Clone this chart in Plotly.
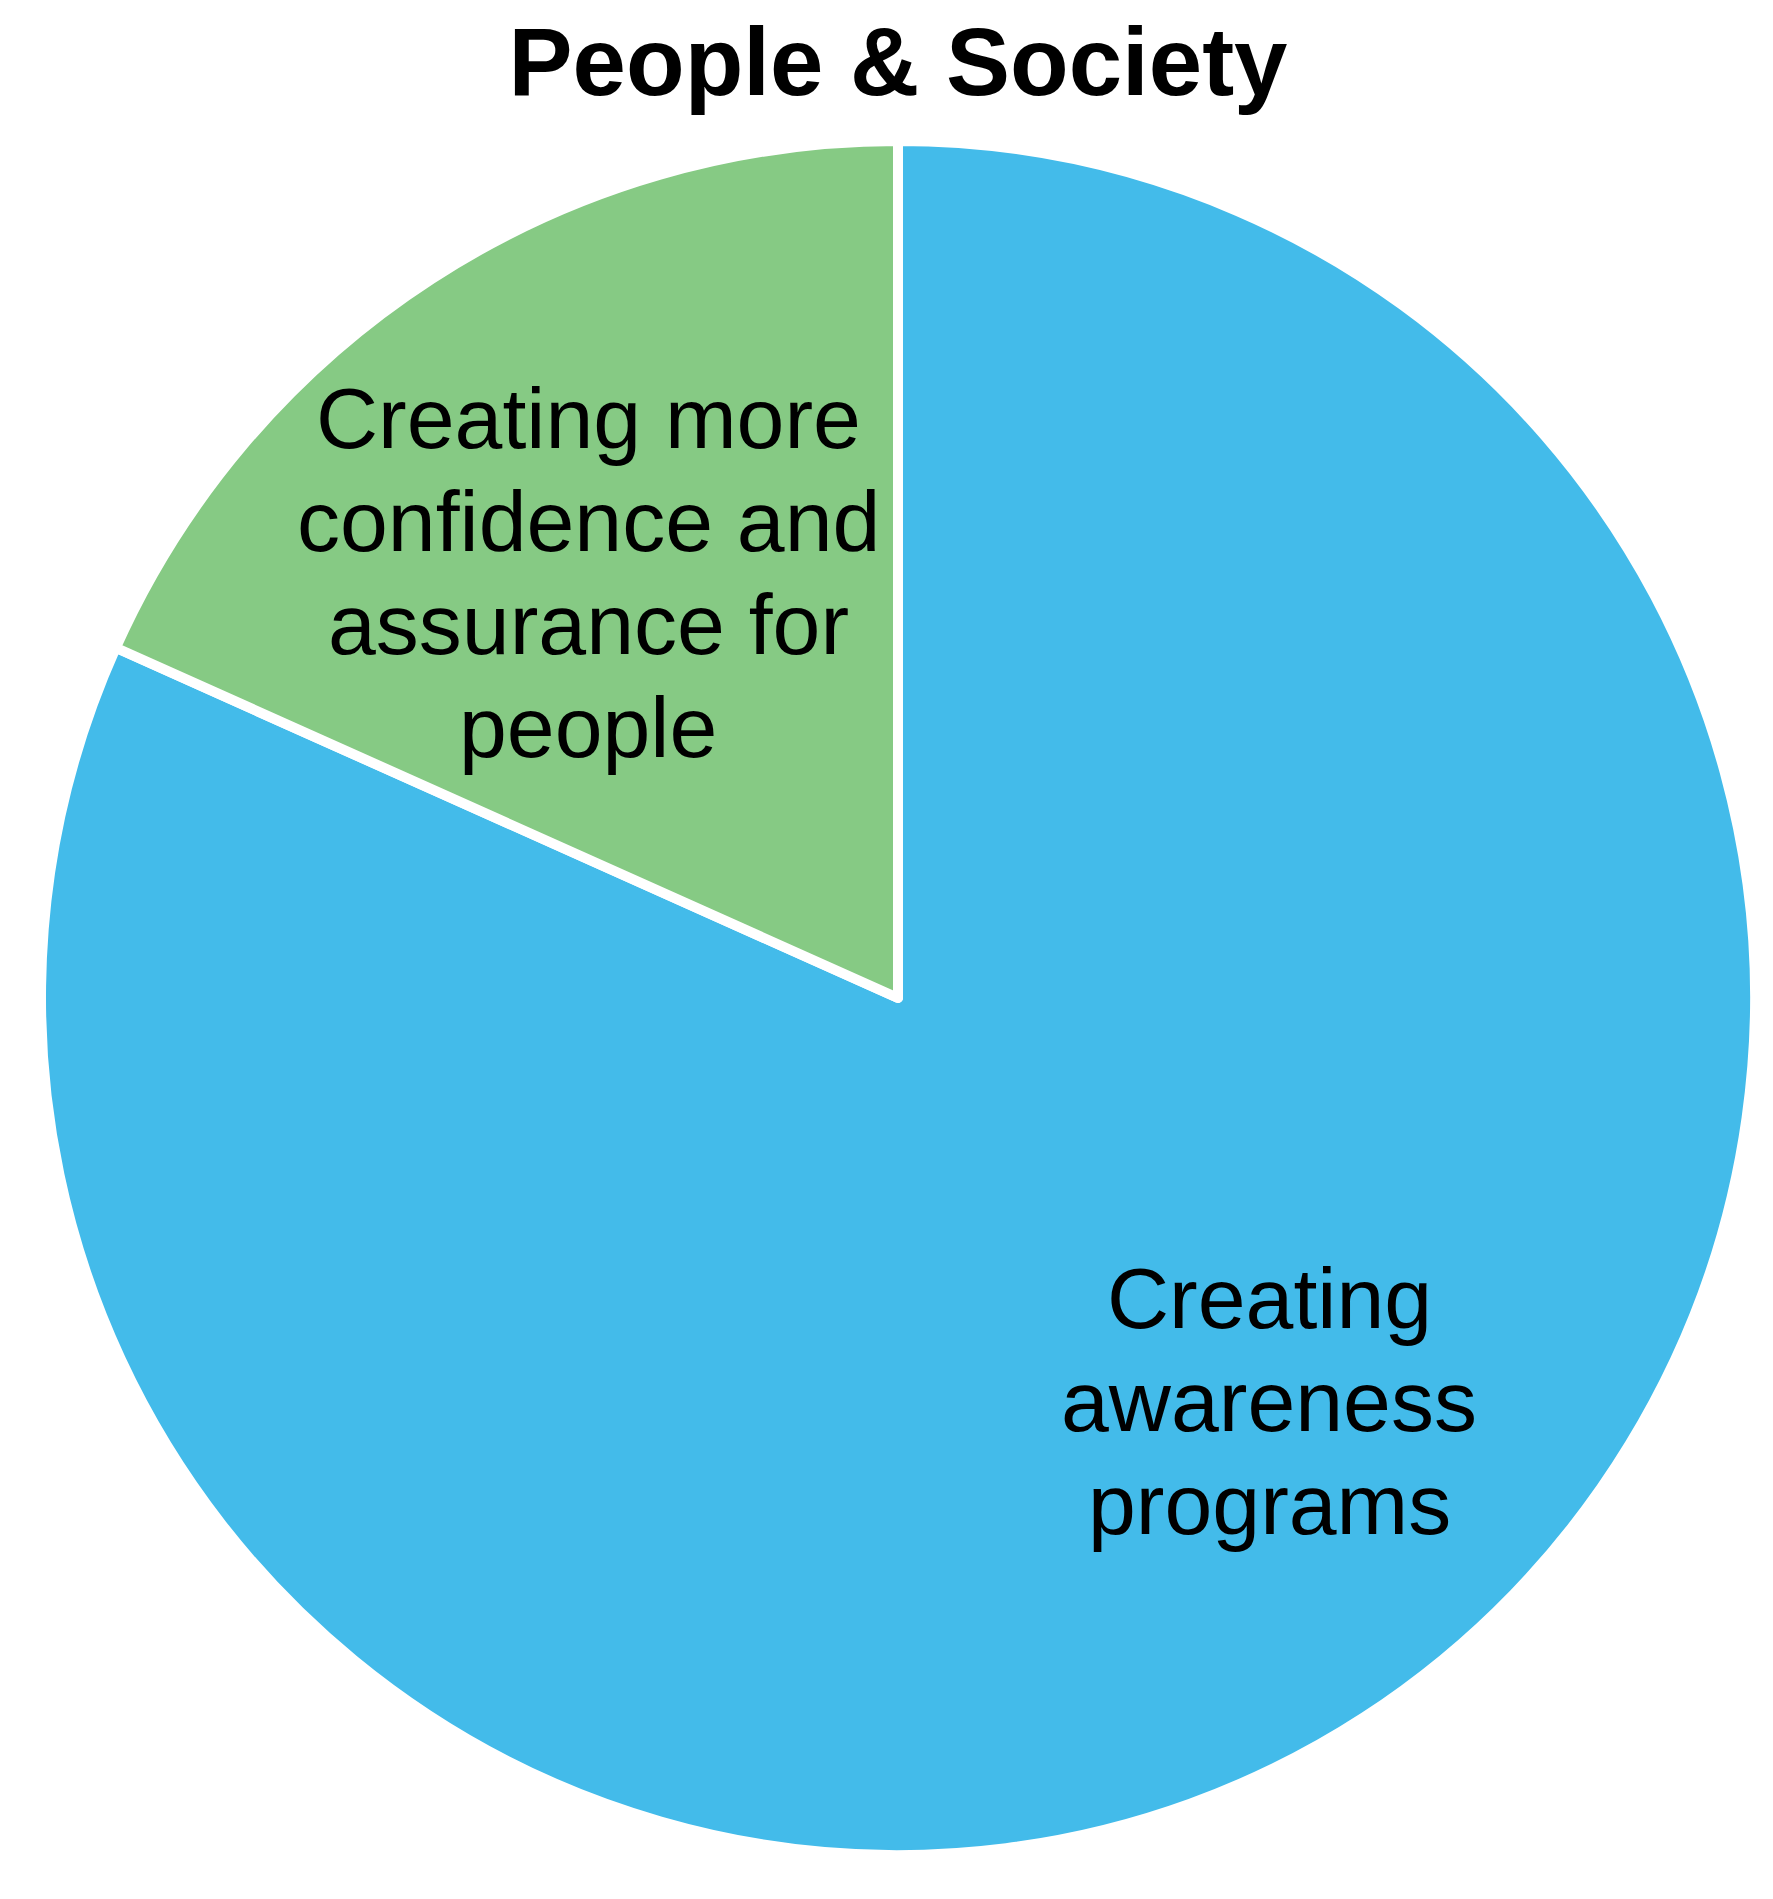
"""Pie chart: People & Society."""

import plotly.graph_objects as go

W, H = 1773, 1899

# Data
labels = [
    "Creating awareness programs",
    "Creating more confidence and assurance for people",
]
label_lines = [
    ["Creating", "awareness", "programs"],
    ["Creating more", "confidence and", "assurance for", "people"],
]
values = [81.7, 18.3]
colors = ["#43BBEA", "#86CA84"]

FONT = "Liberation Sans, Arial, sans-serif"

# pie geometry in pixels
cx, cy, r = 890, 990, 857

pie = go.Pie(
    labels=labels,
    values=values,
    sort=False,
    direction="clockwise",
    rotation=0,
    textinfo="none",
    hoverinfo="label+percent",
    marker=dict(colors=colors, line=dict(color="white", width=10)),
    domain=dict(
        x=[(cx - r) / W, (cx + r) / W],
        y=[(H - cy - r) / H, (H - cy + r) / H],
    ),
    showlegend=False,
)

# label block: centre x (px) and first line middle y (px), line step in px
label_pos = [(1261, 1290), (580, 410)]
LINE_STEP = 103

annotations = []
for lines, (x, y0) in zip(label_lines, label_pos):
    for i, line in enumerate(lines):
        annotations.append(
            dict(
                text=line,
                x=x / W,
                y=1 - (y0 + i * LINE_STEP) / H,
                xref="paper",
                yref="paper",
                xanchor="center",
                yanchor="middle",
                showarrow=False,
                font=dict(family=FONT, size=86, color="black"),
            )
        )

fig = go.Figure(data=[pie])
fig.update_layout(
    width=W,
    height=H,
    margin=dict(l=0, r=0, t=0, b=0),
    paper_bgcolor="white",
    plot_bgcolor="white",
    title=dict(
        text="<b>People & Society</b>",
        x=0.502,
        xanchor="center",
        y=1 - 53 / H,
        yanchor="middle",
        font=dict(family=FONT, size=96, color="black"),
    ),
    annotations=annotations,
)

fig.write_html("out.html")
